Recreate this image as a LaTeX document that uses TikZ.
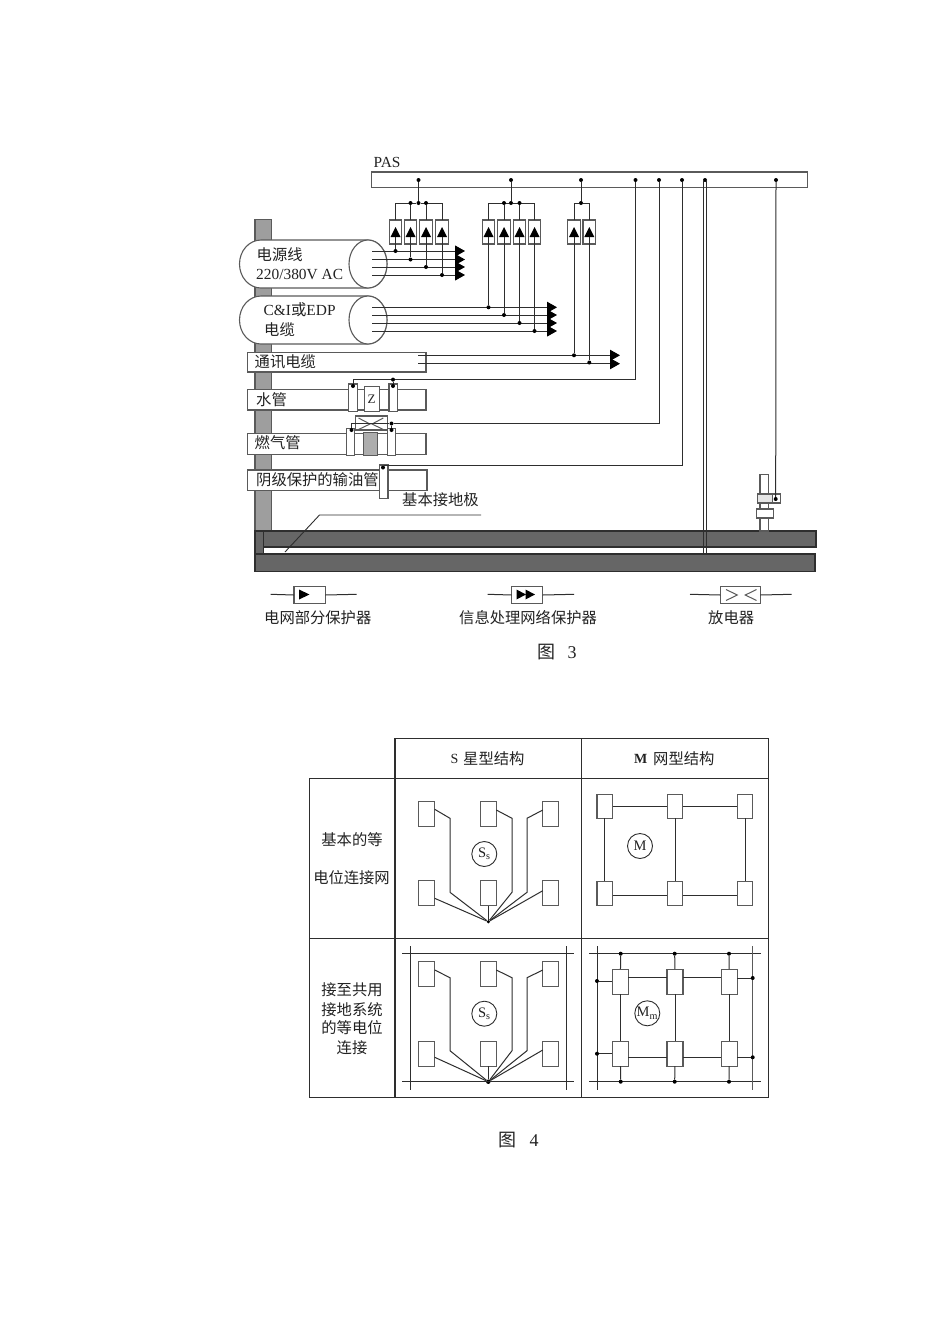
\documentclass[tikz,border=0pt]{standalone}
\usepackage{fontspec}
\setmainfont{Liberation Serif}
\newfontfamily\zh{Noto Sans CJK SC}[Scale=1.0]
\usetikzlibrary{arrows.meta,calc,shapes.geometric}
\definecolor{ln}{HTML}{2E2E2E}
\definecolor{bx}{HTML}{5A5A5A}
\definecolor{ink}{HTML}{222222}
\tikzset{
  wire/.style={draw=ln,line width=1pt},
  awire/.style={wire,-{Triangle[length=10pt,width=11pt,black]}},
  dotn/.style={circle,fill=black,inner sep=0pt,minimum size=4pt},
  gbox/.style={rectangle,draw=bx,line width=1.1pt,fill=white,inner sep=0pt,outer sep=0pt},
  tb/.style={rectangle,draw=ln,line width=1.1pt,inner sep=0pt,outer sep=0pt},
  ground/.style={rectangle,draw=ln,line width=1.1pt,fill=black!60,inner sep=0pt,outer sep=0pt},
  lab/.style={inner sep=0pt,text=ink,font=\fontsize{15.3}{17}\selectfont\zh},
  ser/.style={inner sep=0pt,text=ink,font=\fontsize{15.4}{17}\selectfont},
  circ/.style={circle,draw=ln,line width=0.9pt,fill=white,minimum size=25pt,inner sep=0pt,text=ink,font=\fontsize{14.5}{16}\selectfont},
  cab/.style={draw=bx,line width=1.1pt,fill=white},
  chev/.style={draw=bx,line width=1pt,line join=miter}
}
\newcommand\bx[6][]{\pgfmathsetmacro\bw{#5-#3}\pgfmathsetmacro\bh{#6-#4}%
  \node[gbox,#1,minimum width=\bw pt,minimum height=\bh pt] (#2) at ({(#3+#5)/2},{(#4+#6)/2}) {};}
\newcommand\prot[2]{\node[gbox,minimum width=12.6pt,minimum height=24pt] (#1) at (#2,232) {};
  \fill (#2,227) -- (#2+5,237) -- (#2-5,237) -- cycle;
  \coordinate (#1b) at (#2,237);}
\newcommand\cable[3]{% name, top y, right-ellipse centre x
  \path[cab] (#3,#2) -- (261,#2) arc[start angle=-90,end angle=-270,x radius=21.5,y radius=24] -- (#3,#2+48) coordinate (#1s)
     arc[start angle=90,end angle=-90,x radius=19,y radius=24];
  \path[cab] (#3,#2+24) ellipse[x radius=19,y radius=24];}
\begin{document}
\begin{tikzpicture}[x=1pt,y=-1pt]
\useasboundingbox (0,0) rectangle (950,1344);
\fill[white] (0,0) rectangle (950,1344);
% earth column
\bx[fill=black!38,draw=bx]{column}{255}{219.5}{271.5}{532}
% ground bars
\bx[ground]{barA}{255}{531}{816}{547}
\bx[ground]{barB}{255}{554}{815}{571.5}
\bx[ground]{barC}{255}{531}{263.7}{554}
% PAS
\node[ser,anchor=west] (pas) at (373.5,162.5) {PAS};
\bx{pasbar}{371.5}{172}{807.5}{187.5}
% bus dots
\foreach \n/\x in {d1/418.5,d2/511,d3/581,d4/635.5,d5/659,d6/682,d7/705,d8/776}
  \node[dotn] (\n) at (\x,180) {};
% cables
\cable{c1}{240}{368}
\cable{c2}{296}{368}
\node[lab,anchor=west] (t1) at (256.5,254.5) {电源线};
\node[ser,anchor=west] (t2) at (256,274) {220/380V AC};
\node[ser,anchor=west] (t3) at (263.5,310) {C\&I{\zh 或}EDP};
\node[lab,anchor=west] (t4) at (264,330) {电缆};
% pipes
\bx{pcom}{247.7}{352.7}{426}{372}
\bx{pwat}{247.7}{389.3}{426}{410}
\bx{pgas}{247.7}{433.3}{426}{454.3}
\bx{poil}{247.7}{470}{427}{490.7}
\node[lab,anchor=west] (t5) at (254.5,361.5) {通讯电缆};
\node[lab,anchor=west] (t6) at (256,400) {水管};
\node[lab,anchor=west] (t7) at (254.5,443) {燃气管};
\node[lab,anchor=west] (t8) at (256,480) {阴级保护的输油管};
% protector group 1
\node[dotn] (j1) at (418.5,203) {};
\foreach \n/\x in {a1/395.5,a2/410.5,a3/426,a4/442} {\prot{\n}{\x}}
\foreach \n/\y in {e1/251,e2/259.5,e3/267,e4/275} {\coordinate (\n) at (372,\y);\coordinate (\n t) at (465,\y);}
\foreach \n in {e1,e2,e3,e4} \draw[awire] (\n) -- (\n t);
\foreach \n/\x/\y in {f1/395.5/251,f2/410.5/259.5,f3/426/267,f4/442/275} \node[dotn] (\n) at (\x,\y) {};
\draw[wire] (d1) -- (j1);
\draw[wire] (a1.north) |- (j1); \draw[wire] (a4.north) |- (j1);
\node[dotn] (j1a) at (410.5,203) {}; \node[dotn] (j1b) at (426,203) {};
\draw[wire] (j1a) -- (a2.north); \draw[wire] (j1b) -- (a3.north);
\foreach \i in {1,2,3,4} \draw[wire] (a\i b) -- (f\i);
% protector group 2
\node[dotn] (j2) at (511,203) {};
\foreach \n/\x in {b1/488.5,b2/504,b3/519.5,b4/534.5} {\prot{\n}{\x}}
\foreach \n/\y in {g1/307.3,g2/315,g3/323,g4/331} {\coordinate (\n) at (372,\y);\coordinate (\n t) at (557,\y);}
\foreach \n in {g1,g2,g3,g4} \draw[awire] (\n) -- (\n t);
\foreach \n/\x/\y in {h1/488.5/307.3,h2/504/315,h3/519.5/323,h4/534.5/331} \node[dotn] (\n) at (\x,\y) {};
\draw[wire] (d2) -- (j2);
\draw[wire] (b1.north) |- (j2); \draw[wire] (b4.north) |- (j2);
\node[dotn] (j2a) at (504,203) {}; \node[dotn] (j2b) at (519.5,203) {};
\draw[wire] (j2a) -- (b2.north); \draw[wire] (j2b) -- (b3.north);
\foreach \i in {1,2,3,4} \draw[wire] (b\i b) -- (h\i);
% protector group 3
\node[dotn] (j3) at (581,203) {};
\prot{k1}{574}
\prot{k2}{589.3}
\coordinate (m1) at (418,355.3); \coordinate (m1t) at (620,355.3);
\coordinate (m2) at (418,363.7); \coordinate (m2t) at (620,363.7);
\draw[awire] (m1) -- (m1t); \draw[awire] (m2) -- (m2t);
\node[dotn] (n1) at (574,355.3) {}; \node[dotn] (n2) at (589.3,362.5) {};
\draw[wire] (d3) -- (j3);
\draw[wire] (k1.north) |- (j3); \draw[wire] (k2.north) |- (j3);
\draw[wire] (k1b) -- (n1); \draw[wire] (k2b) -- (n2);
% water pipe
\bx{wl}{348.7}{384}{357.3}{411.7}
\bx{wr}{389}{384}{397.7}{411.7}
\bx{zb}{364.3}{386.7}{379.7}{411.7}
\node[ser,font=\fontsize{13}{14}\selectfont] (zt) at (371.5,399.5) {Z};
\node[dotn] (w1) at (353,386) {};
\node[dotn] (w2) at (393,379.6) {};
\node[dotn] (w3) at (393,386) {};
\draw[wire] (d4) |- (w2);
\draw[wire] (w2) -- (w3);
\draw[wire] (w2) -| (w1);
% gas pipe
\bx{spark}{355.7}{416}{387.7}{430}
\draw[chev] (358.5,418) -- (370,424) -- (358.5,429.5);
\draw[chev] (383.3,418) -- (372,424) -- (383.3,429.5);
\bx{gl}{346.3}{428.3}{354.7}{455.3}
\bx{gr}{387.7}{428.3}{395.7}{455.3}
\bx[fill=black!32]{gg}{363.7}{432.3}{377.7}{455.7}
\node[dotn] (g5) at (351.5,430) {};
\node[dotn] (g6) at (391.5,423.5) {};
\node[dotn] (g7) at (391.5,430) {};
\draw[wire] (d5) |- (g6);
\draw[wire] (g6) -- (g7);
\draw[wire] (g6) -| (g5);
% oil pipe
\bx{ol}{379.7}{465}{388}{498.3}
\node[dotn] (o1) at (383,467.5) {};
\draw[wire] (d6) |- (ol.north);
% PAS to earth
\coordinate (q1) at ($(d7)+(-1.6,0)$); \coordinate (q2) at ($(d7)+(1.6,0)$);
\coordinate (q3) at (703.4,554); \coordinate (q4) at (706.6,554);
\draw[wire] (q1) -- (q3); \draw[wire] (q2) -- (q4);
% rod
\bx{rod}{760}{474.3}{768.3}{531}
\bx[fill=black!10]{clampL}{757.7}{494}{772.5}{503}
\bx{clampR}{772.5}{494}{780.7}{503}
\bx{nut}{756.7}{509}{773.3}{518}
\node[dotn] (r1) at (775.7,499) {};
\draw[wire] (d8) -- (r1);
% leader
\node[lab,anchor=west] (t9) at (402,500) {基本接地极};
\coordinate (l1) at (481,515); \coordinate (l2) at (319.5,515); \coordinate (l3) at (285,552);
\draw[draw=ln,line width=0.9pt] (l1) -- (l2) -- (l3);
% legend
\coordinate (u1) at (270.7,594.3); \coordinate (u2) at (356.7,594.3);
\bx{ub}{294}{586.7}{325.3}{603.3}
\draw[wire] (u1) -- (ub.west); \draw[wire] (ub.east) -- (u2);
\fill (299,589.5) -- (309.5,594.5) -- (299,599.5) -- cycle;
\coordinate (v1) at (487.7,594.3); \coordinate (v2) at (574,594.3);
\bx{vb}{511.7}{586.7}{542.7}{603.3}
\draw[wire] (v1) -- (vb.west); \draw[wire] (vb.east) -- (v2);
\fill (516.5,589.5) -- (526,594.5) -- (516.5,599.5) -- cycle;
\fill (525.5,589.5) -- (535,594.5) -- (525.5,599.5) -- cycle;
\coordinate (s1) at (690,594.3); \coordinate (s2) at (791.7,594.3);
\bx{sb}{720.3}{586.7}{760.3}{603.3}
\draw[wire] (s1) -- (sb.west); \draw[wire] (sb.east) -- (s2);
\draw[chev] (726,589.5) -- (737.3,595) -- (726,600.5);
\draw[chev] (756.5,589.5) -- (745.3,595) -- (756.5,600.5);
\node[lab,anchor=west] (t10) at (264,617.5) {电网部分保护器};
\node[lab,anchor=west] (t11) at (459,617.5) {信息处理网络保护器};
\node[lab,anchor=west] (t12) at (708,617.5) {放电器};
\node[lab,anchor=west,font=\fontsize{18}{20}\selectfont\zh] (t13) at (537,652.5) {图};
\node[ser,anchor=west,font=\fontsize{18}{20}\selectfont] (t14) at (567.5,653) {3};
% table
\bx[tb]{c12}{395}{738.3}{581.7}{778.3}
\bx[tb]{c13}{581.7}{738.3}{768.3}{778.3}
\bx[tb]{c21}{309.3}{778.3}{395}{938.3}
\bx[tb]{c22}{395}{778.3}{581.7}{938.3}
\bx[tb]{c23}{581.7}{778.3}{768.3}{938.3}
\bx[tb]{c31}{309.3}{938.3}{395}{1097.7}
\bx[tb]{c32}{395}{938.3}{581.7}{1097.7}
\bx[tb]{c33}{581.7}{938.3}{768.3}{1097.7}
\node[ser,anchor=west,font=\fontsize{14}{15}\selectfont] (h1) at (450.5,758.5) {S};
\node[lab,anchor=west] (h2) at (463,758.5) {星型结构};
\node[ser,anchor=west,font=\fontsize{14}{15}\selectfont\bfseries] (h3) at (634,758.5) {M};
\node[lab,anchor=west] (h4) at (653,758.5) {网型结构};
\node[lab] (r1a) at (352,840) {基本的等};
\node[lab] (r1b) at (351.5,877.5) {电位连接网};
\node[lab] (r2a) at (352,990) {接至共用};
\node[lab] (r2b) at (352,1009.5) {接地系统};
\node[lab] (r2c) at (352,1028) {的等电位};
\node[lab] (r2d) at (352,1047.5) {连接};
\node[lab,anchor=west,font=\fontsize{18}{20}\selectfont\zh] (t15) at (498,1140) {图};
\node[ser,anchor=west,font=\fontsize{18}{20}\selectfont] (t16) at (529.5,1140.5) {4};
% star cell, basic
\node[dotn,minimum size=3.5pt] (hubA) at (488.3,921.7) {};
\node[dotn,minimum size=4.5pt] (hubB) at (488.3,1081.7) {};
\foreach \n/\x/\y in {sa1/426.7/814.2,sa2/488.3/814.2,sa3/550.8/814.2,sa4/426.7/893.3,sa5/488.3/893.3,sa6/550.8/893.3,
   sb1/426.7/974.2,sb2/488.3/974.2,sb3/550.8/974.2,sb4/426.7/1053.7,sb5/488.3/1053.7,sb6/550.8/1053.7}
   \node[gbox,minimum width=16pt,minimum height=25pt] (\n) at (\x,\y) {};
\draw[wire] (434.7,809.3) coordinate (x1) -- (450,818.3) coordinate (x2) -- (450,892.3) coordinate (x3) -- (hubA);
\draw[wire] (496.3,810) coordinate (x4) -- (512,818.3) coordinate (x5) -- (512,892.3) coordinate (x6) -- (hubA);
\draw[wire] (542.8,810) coordinate (x7) -- (527,818.3) coordinate (x8) -- (527,892.3) coordinate (x9) -- (hubA);
\draw[wire] (sa4.east |- 0,898.3) -- (hubA);
\draw[wire] (sa5.south) -- (hubA);
\draw[wire] (sa6.west |- 0,890.7) -- (hubA);
\node[circ] (sc1) at (484.3,854) {S\textsubscript{s}};
% star cell, common earth
\coordinate (ra1) at (402.3,953.7); \coordinate (ra2) at (574,953.7);
\coordinate (ra3) at (402.3,1081.7); \coordinate (ra4) at (574,1081.7);
\coordinate (ra5) at (410.7,946); \coordinate (ra6) at (410.7,1090);
\coordinate (ra7) at (566,946); \coordinate (ra8) at (566,1090);
\draw[wire] (ra1) -- (ra2); \draw[wire] (ra3) -- (ra4);
\draw[wire] (ra5) -- (ra6); \draw[wire] (ra7) -- (ra8);
\draw[wire] (434.7,970) -- (450,977.7) -- (450,1050.7) -- (hubB);
\draw[wire] (496.3,970) -- (512,977.7) -- (512,1050.7) -- (hubB);
\draw[wire] (542.8,970) -- (527,977.7) -- (527,1050.7) -- (hubB);
\draw[wire] (sb4.east |- 0,1057.3) -- (hubB);
\draw[wire] (sb5.south) -- (hubB);
\draw[wire] (sb6.west |- 0,1050) -- (hubB);
\node[circ] (sc2) at (484.3,1013.7) {S\textsubscript{s}};
% mesh cell, basic
\foreach \n/\x/\y in {ma1/604.8/806.2,ma2/675/806.2,ma3/745.1/806.2,ma4/604.8/893.3,ma5/675/893.3,ma6/745.1/893.3}
   \node[gbox,minimum width=15.6pt,minimum height=24pt] (\n) at (\x,\y) {};
\draw[wire] (ma1) -- (ma2); \draw[wire] (ma2) -- (ma3);
\draw[wire] (ma4.east |- 0,895.7) -- (ma5.west |- 0,895.7);
\draw[wire] (ma5.east |- 0,895.7) -- (ma6.west |- 0,895.7);
\draw[wire] (ma1) -- (ma4); \draw[wire] (ma2) -- (ma5); \draw[wire] (ma3) -- (ma6);
\node[circ] (mc1) at (640,846) {M};
% mesh cell, common earth
\coordinate (rb1) at (589,953.7); \coordinate (rb2) at (760.7,953.7);
\coordinate (rb3) at (589,1081.7); \coordinate (rb4) at (760.7,1081.7);
\coordinate (rb5) at (597,946); \coordinate (rb6) at (597,1090);
\coordinate (rb7) at (752.7,946); \coordinate (rb8) at (752.7,1090);
\draw[wire] (rb1) -- (rb2); \draw[wire] (rb3) -- (rb4);
\draw[wire] (rb5) -- (rb6); \draw[draw=bx,line width=1.5pt] (rb7) -- (rb8);
\foreach \n/\x/\y in {mb1/620.3/981.7,mb2/675/981.7,mb3/729.2/981.7,mb4/620.3/1053.7,mb5/675/1053.7,mb6/729.2/1053.7}
   \node[gbox,minimum width=16pt,minimum height=25pt] (\n) at (\x,\y) {};
\foreach \n/\x in {tp1/620.7,tp2/674.7,tp3/729} \node[dotn] (\n) at (\x,953.7) {};
\foreach \n/\x in {bt1/620.7,bt2/674.7,bt3/729} \node[dotn] (\n) at (\x,1081.7) {};
\node[dotn] (lf1) at (597,981) {}; \node[dotn] (lf2) at (597,1053.7) {};
\node[dotn] (rt1) at (752.7,978) {}; \node[dotn] (rt2) at (752.7,1057.3) {};
\draw[wire] (tp1) -- (mb1); \draw[wire] (tp2) -- (mb2); \draw[wire] (tp3) -- (mb3);
\draw[wire] (mb1) -- (mb4); \draw[wire] (mb2) -- (mb5); \draw[wire] (mb3) -- (mb6);
\draw[wire] (mb4) -- (bt1); \draw[wire] (mb5) -- (bt2); \draw[wire] (mb6) -- (bt3);
\draw[wire] (mb1.east |- 0,977.7) -- (mb2.west |- 0,977.7);
\draw[wire] (mb2.east |- 0,977.7) -- (mb3.west |- 0,977.7);
\draw[wire] (mb4.east |- 0,1057.3) -- (mb5.west |- 0,1057.3);
\draw[wire] (mb5.east |- 0,1057.3) -- (mb6.west |- 0,1057.3);
\draw[wire] (lf1) -- (mb1.west |- lf1);
\draw[wire] (lf2) -- (mb4.west |- lf2);
\draw[wire] (rt1) -- (mb3.east |- rt1);
\draw[wire] (rt2) -- (mb6.east |- rt2);
\node[circ] (mc2) at (647.3,1013.3) {M\textsubscript{m}};
\end{tikzpicture}
\end{document}
